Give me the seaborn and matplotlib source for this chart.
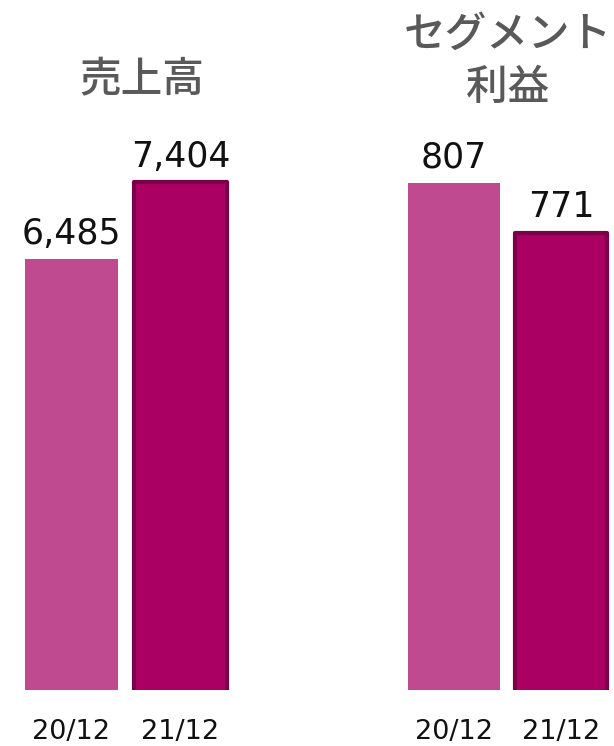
import matplotlib
matplotlib.use("Agg")
import matplotlib.pyplot as plt
import seaborn as sns

# data
periods = ["20/12", "21/12"]
sales = [6485, 7404]
segment_profit = [807, 771]
titles = ["売上高", "セグメント\n利益"]
value_labels_sales = ["6,485", "7,404"]
value_labels_profit = ["807", "771"]

sns.set_style("white")
plt.rcParams['font.family'] = ['DejaVu Sans', 'Noto Sans CJK JP']

colors = ["#C04A8F", "#AA0064"]
edge_dark = "#7B0049"

fig = plt.figure(figsize=(6.14, 7.46), dpi=100)
ax1 = fig.add_axes([17 / 614, 56 / 746, 218 / 614, 590 / 746])
ax2 = fig.add_axes([400 / 614, 56 / 746, 215 / 614, 590 / 746])


def draw(ax, vals, labels, ylim):
    sns.barplot(x=periods, y=vals, hue=periods, palette=colors, ax=ax,
                legend=False, width=0.855, saturation=1)
    ax.set_xlim(-0.5, 1.5)
    ax.set_ylim(*ylim)
    # 21/12 bar has a darker border
    p = ax.patches[1]
    p.set_edgecolor(edge_dark)
    p.set_linewidth(3)
    p.set_joinstyle("round")
    ax.patches[0].set_linewidth(0)
    for patch, lab in zip(ax.patches, labels):
        ax.annotate(lab, (patch.get_x() + patch.get_width() / 2, patch.get_height()),
                    xytext=(0, 11), textcoords="offset points",
                    ha="center", va="baseline", fontsize=25, color="#111111")
    ax.set_yticks([])
    ax.set_ylabel("")
    ax.set_xlabel("")
    ax.tick_params(axis="x", length=0, pad=21, labelsize=19.5, labelcolor="#111111")
    sns.despine(ax=ax, left=True, bottom=True)


draw(ax1, sales, value_labels_sales, (1307, 8395))
draw(ax2, segment_profit, value_labels_profit, (438.3, 867.4))

fig.text(142 / 614, 1 - 80 / 746, titles[0], ha="center", va="center",
         fontsize=30, color="#595959", family=["Noto Sans CJK JP"], weight="medium")
fig.text(508 / 614, 1 - 61 / 746, titles[1], ha="center", va="center",
         fontsize=30, color="#595959", family=["Noto Sans CJK JP"], weight="medium",
         linespacing=1.3, multialignment="center")

fig.savefig("out.png", dpi=100)
